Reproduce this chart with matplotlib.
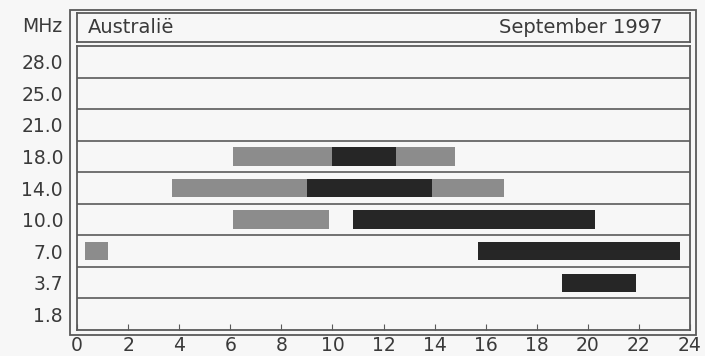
import matplotlib
matplotlib.use('Agg')
import matplotlib.pyplot as plt
from matplotlib.patches import Rectangle

# frequency rows, top to bottom
freqs = ['28.0', '25.0', '21.0', '18.0', '14.0', '10.0', '7.0', '3.7', '1.8']

# opening segments: row label, start hour, end hour, level (1 = fair, 2 = good)
seg_freq = ['18.0', '18.0', '18.0', '14.0', '14.0', '14.0', '10.0', '10.0', '7.0', '7.0', '3.7']
seg_start = [6.1, 10.0, 12.5, 3.7, 9.0, 13.9, 6.1, 10.8, 0.3, 15.7, 19.0]
seg_end = [10.0, 12.5, 14.8, 9.0, 13.9, 16.7, 9.85, 20.3, 1.2, 23.6, 21.9]
seg_level = [1, 2, 1, 1, 2, 1, 1, 2, 1, 2, 2]

hours = list(range(0, 25, 2))
region = 'Australië'
month = 'September 1997'

bg = '#f7f7f7'
line_c = '#5a5a5a'
text_c = '#3a3a3a'
level_colors = {1: '#8c8c8c', 2: '#262626'}

W, H = 705, 356
fig = plt.figure(figsize=(W / 100, H / 100), dpi=100, facecolor=bg)

# main plot area
ax = fig.add_axes([77 / W, (H - 330) / H, (690 - 77) / W, (330 - 46) / H])
ax.set_facecolor(bg)
ax.set_xlim(0, 24)
ax.set_ylim(len(freqs), 0)

for f, s, e, lv in zip(seg_freq, seg_start, seg_end, seg_level):
    row = freqs.index(f) + 0.5
    ax.barh(row, e - s, left=s, height=0.58, color=level_colors[lv], edgecolor='none')

for i in range(1, len(freqs)):
    ax.axhline(i, color=line_c, lw=1.2)

ax.set_yticks([i + 0.5 for i in range(len(freqs))])
ax.set_yticklabels(freqs)
ax.set_xticks(hours)
ax.set_xticklabels([str(h) for h in hours])
ax.tick_params(axis='y', length=0, pad=10, labelsize=13.5, labelcolor=text_c)
ax.tick_params(axis='x', direction='in', length=4, color=line_c, pad=4,
               labelsize=13.5, labelcolor=text_c)
for sp in ax.spines.values():
    sp.set_color(line_c)
    sp.set_linewidth(1.3)

# header box
hx = fig.add_axes([77 / W, (H - 42) / H, (690 - 77) / W, 29 / H])
hx.set_facecolor(bg)
hx.set_xticks([])
hx.set_yticks([])
for sp in hx.spines.values():
    sp.set_color(line_c)
    sp.set_linewidth(1.3)
hx.text(0.018, 0.5, region, transform=hx.transAxes, ha='left', va='center',
        fontsize=14, color=text_c)
hx.text(0.955, 0.5, month, transform=hx.transAxes, ha='right', va='center',
        fontsize=14, color=text_c)

fig.text(62 / W, 1 - 27 / H, 'MHz', ha='right', va='center', fontsize=13.5, color=text_c)

# outer frame
fig.patches.append(Rectangle((70 / W, (H - 335) / H), (696 - 70) / W, (335 - 10) / H,
                             transform=fig.transFigure, fill=False,
                             edgecolor=line_c, lw=1.3))

fig.savefig('out.png', dpi=100, facecolor=bg)
